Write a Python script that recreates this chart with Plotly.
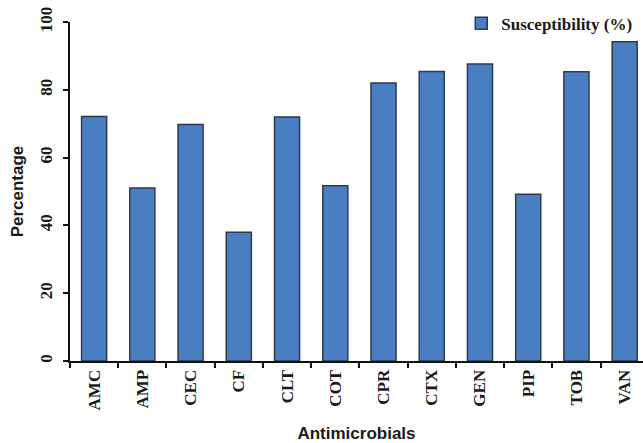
import plotly.graph_objects as go

categories = ["AMC", "AMP", "CEC", "CF", "CLT", "COT", "CPR", "CTX", "GEN", "PIP", "TOB", "VAN"]
susceptibility = [72.1, 51.0, 69.8, 38.0, 72.0, 51.7, 82.0, 85.4, 87.6, 49.2, 85.3, 94.2]
y_ticks = [0, 20, 40, 60, 80, 100]

serif_bold = dict(family="Liberation Serif", size=17, color="#1a1a1a", weight="bold")
sans_bold = dict(family="Liberation Sans", size=17, color="#1a1a1a", weight="bold")

fig = go.Figure()
fig.add_trace(go.Bar(
    x=categories,
    y=susceptibility,
    name="Susceptibility (%)",
    marker=dict(color="#4A7EC2", line=dict(color="#2E3A52", width=1.5)),
    showlegend=True,
))

fig.update_layout(
    width=643,
    height=443,
    margin=dict(l=70, r=0, t=22, b=82, autoexpand=False),
    paper_bgcolor="white",
    plot_bgcolor="white",
    bargap=0.48,
    showlegend=True,
    legend=dict(
        x=0.99, y=0.995, xanchor="right", yanchor="middle",
        font=dict(family="Liberation Serif", size=17, color="#1a1a1a", weight="bold"),
        bgcolor="rgba(0,0,0,0)",
        itemwidth=30,
        tracegroupgap=0,
    ),
    xaxis=dict(
        type="category",
        range=[-0.5, 11.38],
        automargin=False,
        showline=True, linecolor="#111", linewidth=2,
        ticks="outside", tickson="boundaries", ticklen=5, tickwidth=2, tickcolor="#111",
        tickangle=-90,
        tickfont=serif_bold,
        showgrid=False,
        title=dict(text="Antimicrobials", font=sans_bold, standoff=18),
    ),
    yaxis=dict(
        range=[0, 100],
        tickvals=y_ticks,
        automargin=False,
        showline=True, linecolor="#111", linewidth=2,
        ticks="outside", ticklen=5, tickwidth=2, tickcolor="#111",
        tickangle=-90,
        tickfont=serif_bold,
        ticklabelstandoff=4,
        showgrid=False, zeroline=False,
        title=dict(text="Percentage", font=sans_bold, standoff=9),
    ),
)

fig.write_html("out.html", config={"displayModeBar": False},
               post_script="document.body.style.margin='0';")
